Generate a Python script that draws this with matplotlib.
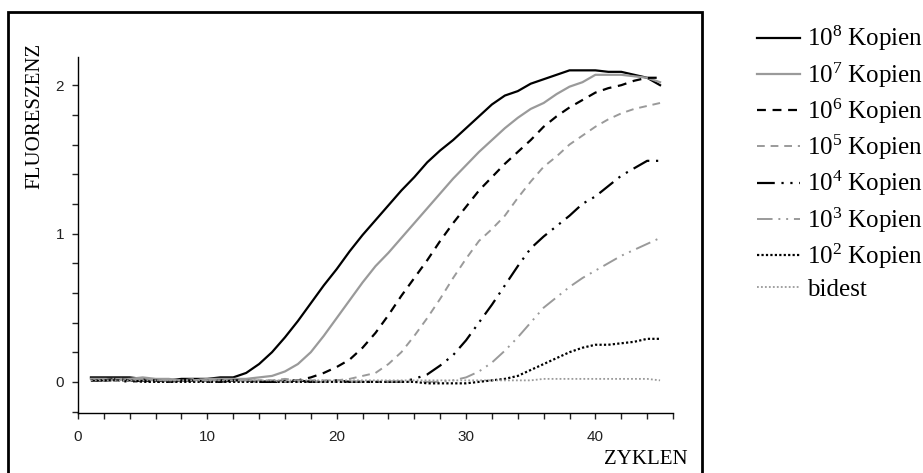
#!/usr/bin/env python3
"""Real-time PCR dilution series: fluorescence vs cycle for 10^8 ... 10^2 copies and bidest."""

import matplotlib

matplotlib.use("Agg")
import matplotlib.pyplot as plt
from matplotlib.patches import Rectangle
from matplotlib.ticker import MultipleLocator

plt.rcParams["mathtext.fontset"] = "custom"
plt.rcParams["mathtext.rm"] = "Liberation Serif"

CYCLES = list(range(1, 46))

K8 = [0.03, 0.03, 0.03, 0.03, 0.02, 0.01, 0.01, 0.02, 0.02, 0.02, 0.03, 0.03,
      0.06, 0.12, 0.20, 0.30, 0.41, 0.53, 0.65, 0.76, 0.88, 0.99, 1.09, 1.19,
      1.29, 1.38, 1.48, 1.56, 1.63, 1.71, 1.79, 1.87, 1.93, 1.96, 2.01, 2.04,
      2.07, 2.10, 2.10, 2.10, 2.09, 2.09, 2.07, 2.05, 2.00]
K7 = [0.02, 0.02, 0.02, 0.02, 0.03, 0.02, 0.02, 0.01, 0.01, 0.02, 0.02, 0.02,
      0.02, 0.03, 0.04, 0.07, 0.12, 0.20, 0.31, 0.43, 0.55, 0.67, 0.78, 0.87,
      0.97, 1.07, 1.17, 1.27, 1.37, 1.46, 1.55, 1.63, 1.71, 1.78, 1.84, 1.88,
      1.94, 1.99, 2.02, 2.07, 2.07, 2.07, 2.06, 2.05, 2.02]
K6 = [0.01, 0.01, 0.02, 0.01, 0.01, 0.01, 0.00, 0.01, 0.01, 0.01, 0.01, 0.01,
      0.01, 0.00, 0.00, 0.01, 0.01, 0.03, 0.06, 0.10, 0.15, 0.23, 0.33, 0.45,
      0.58, 0.70, 0.82, 0.95, 1.07, 1.18, 1.29, 1.38, 1.47, 1.55, 1.63, 1.72,
      1.79, 1.85, 1.90, 1.95, 1.98, 2.00, 2.03, 2.05, 2.05]
K5 = [0.01, 0.01, 0.01, 0.02, 0.02, 0.01, 0.01, 0.01, 0.02, 0.01, 0.01, 0.01,
      0.01, 0.01, 0.01, 0.02, 0.01, 0.01, 0.01, 0.01, 0.02, 0.04, 0.06, 0.12,
      0.20, 0.31, 0.43, 0.56, 0.70, 0.83, 0.95, 1.03, 1.12, 1.24, 1.35, 1.45,
      1.52, 1.60, 1.66, 1.72, 1.77, 1.81, 1.84, 1.86, 1.88]
K4 = [0.01, 0.01, 0.01, 0.00, 0.01, 0.00, 0.00, 0.01, 0.01, 0.00, 0.00, 0.01,
      0.00, 0.00, 0.00, 0.00, 0.01, 0.00, 0.00, 0.01, 0.00, 0.00, 0.00, 0.00,
      0.00, 0.02, 0.05, 0.11, 0.18, 0.28, 0.40, 0.52, 0.65, 0.78, 0.90, 0.98,
      1.05, 1.12, 1.20, 1.25, 1.32, 1.39, 1.44, 1.49, 1.49]
K3 = [0.02, 0.02, 0.02, 0.02, 0.02, 0.01, 0.01, 0.01, 0.01, 0.01, 0.01, 0.01,
      0.01, 0.01, 0.01, 0.00, 0.00, 0.00, 0.00, 0.00, 0.00, 0.00, 0.00, 0.00,
      0.00, 0.00, 0.00, 0.00, 0.01, 0.03, 0.07, 0.13, 0.21, 0.30, 0.40, 0.50,
      0.57, 0.64, 0.70, 0.75, 0.80, 0.85, 0.89, 0.93, 0.97]
K2 = [0.01, 0.01, 0.01, 0.01, 0.00, 0.00, 0.00, 0.00, 0.00, 0.00, 0.00, 0.00,
      0.00, 0.00, 0.00, 0.00, 0.00, 0.00, 0.00, 0.00, 0.00, 0.00, 0.00, 0.00,
      0.00, 0.00, -0.01, -0.01, -0.01, -0.01, 0.00, 0.01, 0.02, 0.04, 0.08, 0.12,
      0.16, 0.20, 0.23, 0.25, 0.25, 0.26, 0.27, 0.29, 0.29]
BIDEST = [0.01, 0.01, 0.01, 0.01, 0.01, 0.01, 0.01, 0.01, 0.01, 0.01, 0.01, 0.01,
          0.01, 0.01, 0.01, 0.01, 0.01, 0.01, 0.01, 0.01, 0.01, 0.01, 0.01, 0.01,
          0.01, 0.01, 0.01, 0.01, 0.01, 0.01, 0.01, 0.01, 0.01, 0.01, 0.01, 0.02,
          0.02, 0.02, 0.02, 0.02, 0.02, 0.02, 0.02, 0.02, 0.01]

LABELS = [r"$\mathregular{10^8}$ Kopien", r"$\mathregular{10^7}$ Kopien",
          r"$\mathregular{10^6}$ Kopien", r"$\mathregular{10^5}$ Kopien",
          r"$\mathregular{10^4}$ Kopien", r"$\mathregular{10^3}$ Kopien",
          r"$\mathregular{10^2}$ Kopien", "bidest"]

BLACK = "#000000"
GREY = "#9a9a9a"
STYLES = [
    (BLACK, "-", 1.6),
    (GREY, "-", 1.6),
    (BLACK, (0, (4, 3)), 1.6),
    (GREY, (0, (4, 3)), 1.4),
    (BLACK, (0, (8, 3, 1, 3, 1, 3)), 1.6),
    (GREY, (0, (8, 3, 1, 3, 1, 3)), 1.4),
    (BLACK, (0, (1, 1)), 1.6),
    (GREY, (0, (1, 1.2)), 1.3),
]


def main() -> None:
    fig = plt.figure(figsize=(9.23, 4.73), dpi=100)
    fig.patch.set_facecolor("white")
    # outer frame (open at the bottom edge of the image)
    fig.patches.append(Rectangle((8 / 923, -0.05), (702 - 8) / 923, 1.05 - 12 / 473,
                                 transform=fig.transFigure, fill=False,
                                 edgecolor="black", linewidth=2.0))

    ax = fig.add_axes([78 / 923, 60 / 473, 595 / 923, 356 / 473])
    series = [K8, K7, K6, K5, K4, K3, K2, BIDEST]
    for ys, label, (color, ls, lw) in zip(series, LABELS, STYLES):
        ax.plot(CYCLES, ys, color=color, linestyle=ls, linewidth=lw, label=label)

    ax.set_xlim(0, 46)
    ax.set_ylim(-0.21, 2.19)
    ax.xaxis.set_major_locator(MultipleLocator(10))
    ax.xaxis.set_minor_locator(MultipleLocator(2))
    ax.yaxis.set_major_locator(MultipleLocator(1))
    ax.yaxis.set_minor_locator(MultipleLocator(0.2))
    for side in ("top", "right"):
        ax.spines[side].set_visible(False)
    for side in ("left", "bottom"):
        ax.spines[side].set_linewidth(1.0)
    ax.tick_params(which="both", direction="out", length=4, width=1.0, color="#222")
    ax.tick_params(axis="x", which="major", pad=8)
    ax.tick_params(axis="y", which="major", pad=6)
    for t in ax.get_xticklabels() + ax.get_yticklabels():
        t.set_family(["Liberation Sans Narrow", "Liberation Sans"])
        t.set_fontsize(11)
        t.set_color("#222")

    fig.text(35 / 923, 1 - 116 / 473, "FLUORESZENZ", rotation=90, ha="center",
             va="center", family="Liberation Serif", fontsize=15)
    fig.text(688 / 923, 1 - 459 / 473, "ZYKLEN", ha="right", va="center",
             family="Liberation Serif", fontsize=15)

    ax.legend(loc="upper left", bbox_to_anchor=(757 / 923, 1 - 24 / 473),
              bbox_transform=fig.transFigure, frameon=False, borderaxespad=0,
              borderpad=0, handlelength=1.72, handletextpad=0.28, labelspacing=0.28,
              prop={"family": "Liberation Serif", "size": 18})

    fig.savefig("out.png", dpi=100, facecolor="white")


if __name__ == "__main__":
    main()
